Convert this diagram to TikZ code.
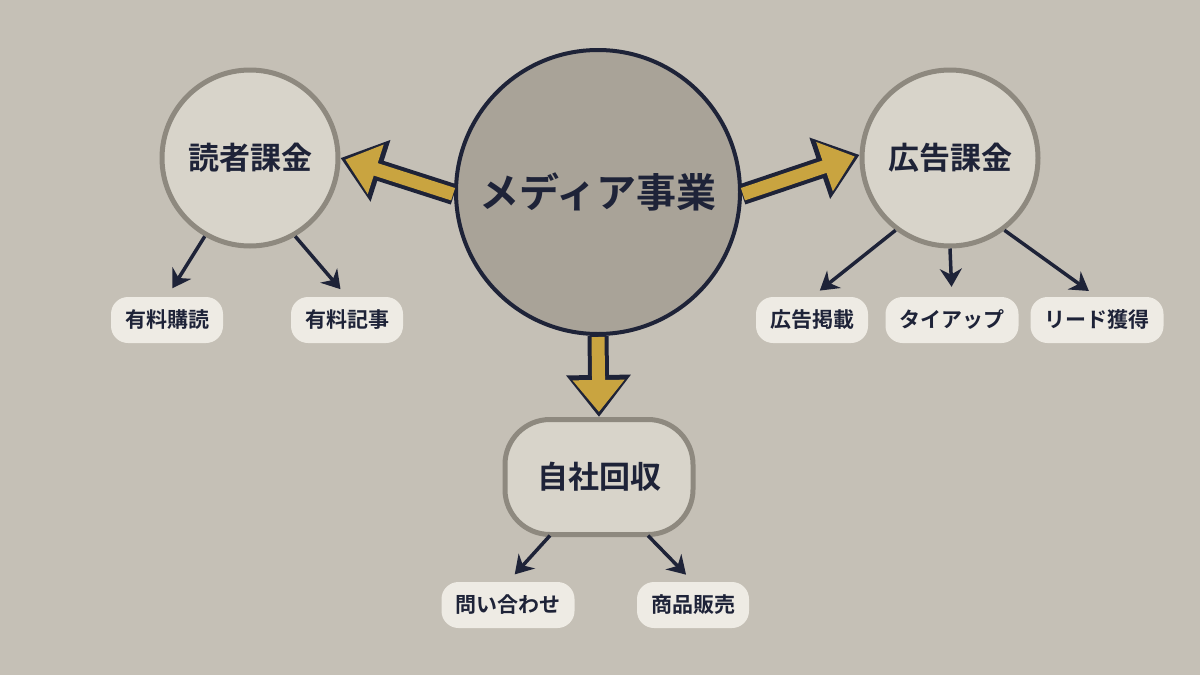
\documentclass[tikz,border=0pt]{standalone}
\usepackage{fontspec}
\setmainfont{Noto Sans CJK JP}[BoldFont={* Bold}]
\usetikzlibrary{arrows.meta, positioning}
\definecolor{bg}{HTML}{C5C0B6}
\definecolor{navy}{HTML}{1E2338}
\definecolor{gold}{HTML}{C9A440}
\definecolor{core}{HTML}{A9A398}
\definecolor{sub}{HTML}{D8D4CA}
\definecolor{ring}{HTML}{8E897F}
\definecolor{pill}{HTML}{EEEBE4}
\begin{document}
\begin{tikzpicture}[x=1pt, y=-1pt, font=\bfseries, text=navy]
    \tikzstyle{hub}  = [circle, draw=ring, line width=5pt, fill=sub, minimum size=176pt, font=\bfseries\fontsize{31}{34}\selectfont]
    \tikzstyle{tag}  = [rounded corners=17pt, fill=pill, minimum height=46pt, inner xsep=14pt, font=\bfseries\fontsize{21}{24}\selectfont]
    \tikzstyle{thin} = [-{Stealth[length=18pt, width=22pt]}, draw=navy, line width=3.5pt, shorten >=10pt]
    \tikzstyle{fatout} = [-{Triangle[length=42pt, width=62pt]}, draw=navy, line width=21pt]
    \tikzstyle{fatin}  = [-{Triangle[length=32pt, width=50pt]}, draw=gold, line width=13pt, shorten >=5pt, shorten <=1pt]

    \fill[bg] (0,0) rectangle (1200,675);
    \useasboundingbox (0,0) rectangle (1200,675);

    % 中心
    \node[circle, draw=navy, line width=4pt, fill=core, minimum size=284pt,
          font=\bfseries\fontsize{40}{44}\selectfont] (ctr) at (598,192) {メディア事業};

    % 三つの収益
    \node[hub] (rd) at (250,158) {読者課金};
    \node[hub] (ad) at (950,158) {広告課金};
    \node[hub, rounded corners=45pt, rectangle, minimum width=188pt, minimum height=115pt] (own) at (599,477) {自社回収};

    % 太い矢印
    \foreach \a/\b in {ctr.181/rd.0, ctr.-1/ad.178, ctr.south/own.north} {
        \draw[fatout] (\a) -- (\b);
        \draw[fatin] (\a) -- (\b);
    }

    % 下位項目
    \node[tag] (p1) at (167,320) {有料購読};
    \node[tag] (p2) at (347,320) {有料記事};
    \node[tag] (p3) at (812,320) {広告掲載};
    \node[tag] (p4) at (952,320) {タイアップ};
    \node[tag] (p5) at (1097,320) {リード獲得};
    \node[tag] (p6) at (508,605) {問い合わせ};
    \node[tag] (p7) at (693,605) {商品販売};

    \draw[thin] (rd.240) -- (p1.north);
    \draw[thin] (rd.300) -- (p2.north);
    \draw[thin] (ad.233) -- (p3.north);
    \draw[thin] (ad.270) -- (p4.north);
    \draw[thin] (ad.307) -- (p5.north);
    \draw[thin, shorten <=-2pt] (own.230) -- (p6.north);
    \draw[thin, shorten <=-2pt] (own.310) -- (p7.north);
\end{tikzpicture}
\end{document}
